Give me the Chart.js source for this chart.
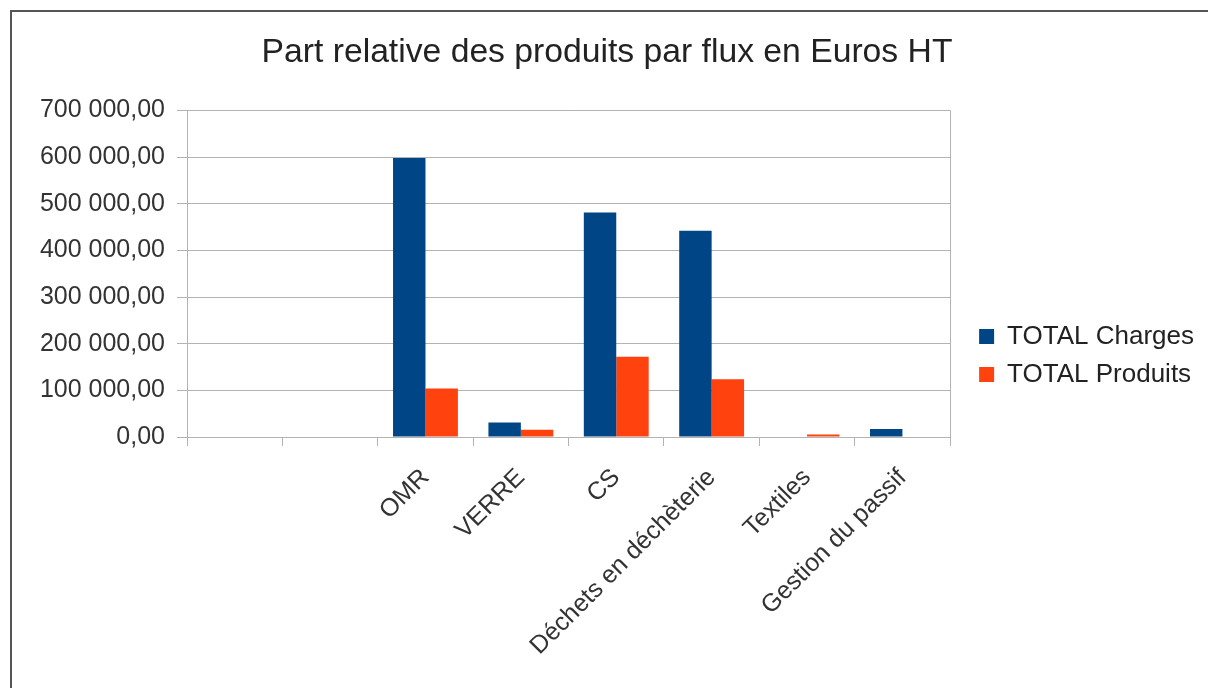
<!DOCTYPE html>
<html lang="fr">
  <head>
    <meta charset="UTF-8" />
    <title>Part relative des produits par flux en Euros HT</title>
    <script src="https://cdn.jsdelivr.net/npm/chart.js"></script>
    <style>
      body { margin: 0; background: #fff; }
      #frame {
        position: absolute; left: 10px; top: 10px; width: 1300px; height: 800px;
        border-left: 2px solid #555; border-top: 2px solid #555;
      }
      #fluxChart { position: absolute; left: 0; top: 0; }
    </style>
  </head>
  <body>
    <div id="frame"></div>
    <canvas id="fluxChart" width="1208" height="688"></canvas>
    <script>
      // catégories (les deux premières sont vides dans la source)
      const categories = ["", "", "OMR", "VERRE", "CS", "Déchets en déchèterie", "Textiles", "Gestion du passif"];
      const totalCharges = [0, 0, 598000, 31000, 481000, 442000, 0, 17000];
      const totalProduits = [0, 0, 104000, 15500, 172000, 124000, 5500, 0];
      const yTicks = [0, 100000, 200000, 300000, 400000, 500000, 600000, 700000];

      const police = "'Liberation Sans', Arial, sans-serif";
      const gris = "#b3b3b3";

      function formatEuro(v) {
        return String(v).replace(/\B(?=(\d{3})+(?!\d))/g, " ") + ",00";
      }

      const ctx = document.getElementById("fluxChart").getContext("2d");
      new Chart(ctx, {
        type: "bar",
        data: {
          labels: categories,
          datasets: [
            { label: "TOTAL Charges", data: totalCharges, backgroundColor: "#004586" },
            { label: "TOTAL Produits", data: totalProduits, backgroundColor: "#ff420e" },
          ],
        },
        options: {
          responsive: false,
          animation: false,
          barPercentage: 1,
          categoryPercentage: 0.68,
          layout: { padding: { top: 23, left: 10, right: 4, bottom: 0 } },
          plugins: {
            tooltip: { enabled: false },
            title: {
              display: true,
              text: "Part relative des produits par flux en Euros HT",
              color: "#222",
              font: { family: police, size: 33.7, weight: "normal" },
              padding: { top: 9, bottom: 38 },
            },
            legend: {
              position: "right",
              align: "center",
              labels: {
                color: "#222",
                font: { family: police, size: 26 },
                boxWidth: 15,
                boxHeight: 15,
                padding: 12,
              },
            },
          },
          scales: {
            x: {
              offset: true,
              grid: {
                // seule la dernière ligne (bord droit du graphique) est visible
                color: (c) => (c.type === "tick" ? "rgba(0,0,0,0)" : gris),
                tickColor: gris,
                tickLength: 9,
              },
              border: { color: gris },
              ticks: {
                color: "#333",
                font: { family: police, size: 25 },
                autoSkip: false,
                minRotation: 45,
                maxRotation: 45,
                padding: 17,
              },
              afterFit: (s) => { s.height = 251; },
            },
            y: {
              min: 0,
              max: 700000,
              afterBuildTicks: (s) => { s.ticks = yTicks.map((v) => ({ value: v })); },
              grid: { color: gris, tickLength: 10 },
              border: { color: gris },
              ticks: {
                color: "#333",
                font: { family: police, size: 25 },
                padding: 12,
                callback: (v) => formatEuro(v),
              },
              afterFit: (s) => { s.width = 177; },
            },
            // axe invisible : simple marge entre le graphique et la légende
            ecart: {
              type: "linear",
              position: "right",
              display: false,
              afterFit: (s) => { s.width = 17; },
            },
          },
        },
      });
    </script>
  </body>
</html>
